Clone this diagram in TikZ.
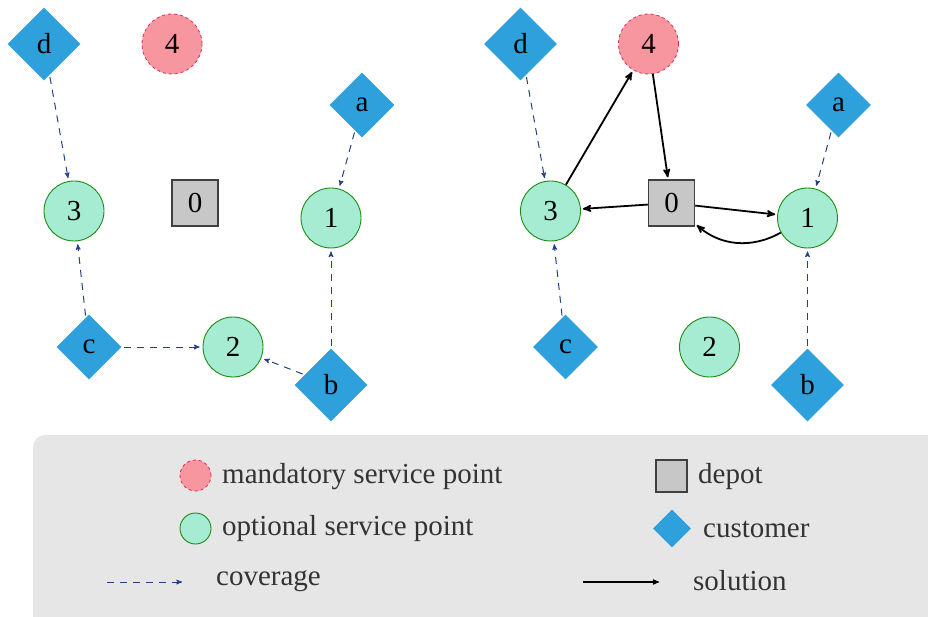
\documentclass[tikz,border=0pt]{standalone}
\usepackage{fontspec}
\setmainfont{Liberation Serif}
\usepackage{tikz}
\usetikzlibrary{shapes,arrows}
\usetikzlibrary{calc,positioning}
\usepackage{xcolor}
\definecolor{custblue}{RGB}{46,160,220}
\definecolor{mandfill}{RGB}{248,150,160}
\definecolor{manddraw}{RGB}{225,40,80}
\definecolor{optfill}{RGB}{166,236,210}
\definecolor{optdraw}{RGB}{30,140,20}
\definecolor{covblue}{RGB}{35,65,130}
\definecolor{legendgray}{RGB}{230,230,230}
\tikzstyle{cover} = [covblue, line width=1pt, dash pattern=on 7pt off 6pt, ->, >=stealth', shorten >=3pt, shorten <=2pt]
\tikzstyle{sol} = [black, line width=1.8pt, ->, >=stealth', shorten >=2pt]
\tikzset{
    customer/.style = {diamond, aspect=1, fill=custblue, inner sep=9.5pt},
    mandatory/.style = {circle, draw=manddraw, dashed, line width=0.8pt, fill=mandfill, minimum size=60pt, inner sep=0pt},
    optional/.style = {circle, draw=optdraw, line width=0.9pt, fill=optfill, minimum size=60pt, inner sep=0pt},
    depot/.style = {draw=black!75, line width=1.5pt, fill=black!22, rectangle, minimum size=46pt, inner sep=0pt},
    legtext/.style = {anchor=base west, inner sep=0pt, text=black!80},
}

\begin{document}
\begin{tikzpicture}[x=1pt, y=-1pt, font=\fontsize{29}{34}\selectfont]
    \useasboundingbox (0,0) rectangle (928,617);
    \fill [legendgray, rounded corners=12pt] (33,435) rectangle (980,660);

    % left: coverage
    \node [customer] (ld) at (44,44) {d};
    \node [mandatory] (l4) at (172,44) {4};
    \node [customer] (la) at (362,105) {a};
    \node [optional] (l3) at (74,211) {3};
    \node [depot] (l0) at (195,203) {0};
    \node [optional] (l1) at (331,218) {1};
    \node [customer] (lc) at (89,347) {c};
    \node [optional] (l2) at (233,347) {2};
    \node [customer] (lb) at (331,385) {b};

    \draw [cover] (ld) -- (l3);
    \draw [cover] (lc) -- (l3);
    \draw [cover] (lc) -- (l2);
    \draw [cover] (lb) -- (l2);
    \draw [cover] (lb) -- (l1);
    \draw [cover] (la) -- (l1);

    % right: solution
    \begin{scope}[xshift=476.5pt]
    \node [customer] (rd) at (44,44) {d};
    \node [mandatory] (r4) at (172,44) {4};
    \node [customer] (ra) at (362,105) {a};
    \node [optional] (r3) at (74,211) {3};
    \node [depot] (r0) at (195,203) {0};
    \node [optional] (r1) at (331,218) {1};
    \node [customer] (rc) at (89,347) {c};
    \node [optional] (r2) at (233,347) {2};
    \node [customer] (rb) at (331,385) {b};
    \end{scope}

    \draw [cover] (rd) -- (r3);
    \draw [cover] (rc) -- (r3);
    \draw [cover] (ra) -- (r1);
    \draw [cover] (rb) -- (r1);

    \draw [sol] (r3) -- (r4);
    \draw [sol] (r4) -- (r0);
    \draw [sol] (r0) -- (r3);
    \draw [sol] (r0) -- (r1);
    \draw [sol] (r1) to [bend left=35] (r0);

    % legend
    \node [mandatory, minimum size=31pt] (lgm) at (195.5,475.5) {};
    \node [legtext] (lgmt) at (222,483) {mandatory service point};
    \node [optional, minimum size=31pt] (lgo) at (195.5,528.5) {};
    \node [legtext] (lgot) at (222,535) {optional service point};
    \coordinate (cova) at (107,582);
    \coordinate (covb) at (182,582);
    \draw [cover, shorten >=0pt, shorten <=0pt] (cova) -- (covb);
    \node [legtext] (lgct) at (216,585) {coverage};
    \node [depot, minimum width=31pt, minimum height=32pt] (lgd) at (671.5,476) {};
    \node [legtext] (lgdt) at (698,483) {depot};
    \node [customer, minimum size=38pt, inner sep=0pt] (lgc) at (672,528.5) {};
    \node [legtext] (lgcu) at (703,537) {customer};
    \coordinate (sola) at (583,582);
    \coordinate (solb) at (659,582);
    \draw [sol, line width=1.2pt, shorten >=0pt] (sola) -- (solb);
    \node [legtext] (lgst) at (693,590) {solution};
\end{tikzpicture}
\end{document}
